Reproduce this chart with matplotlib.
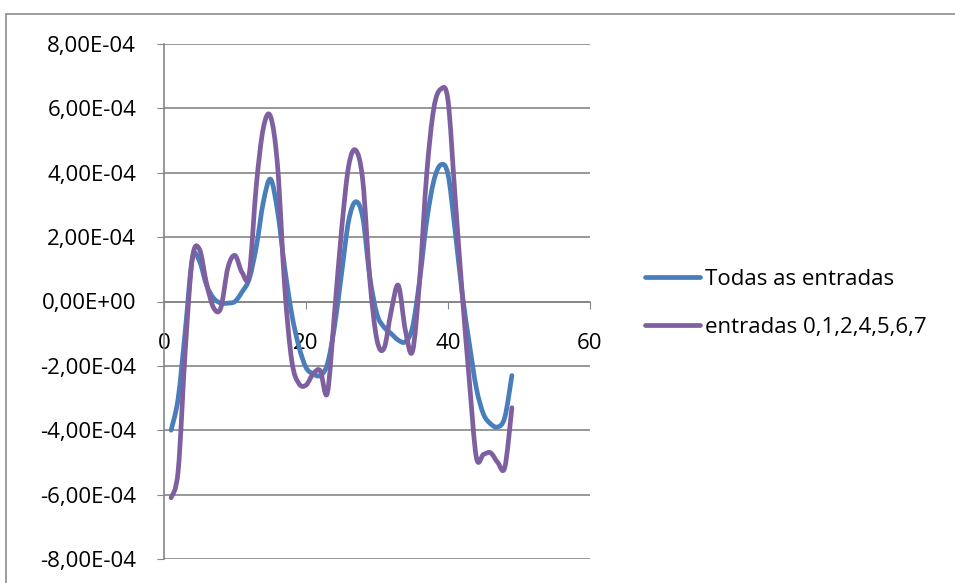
import numpy as np
import matplotlib.pyplot as plt
from matplotlib.path import Path
from matplotlib.patches import PathPatch, Rectangle
from matplotlib.lines import Line2D
from matplotlib.ticker import FuncFormatter, MultipleLocator

# Amostras (eixo x) e respostas, em unidades de 1E-04
amostras = list(range(1, 50))
todas_entradas = [
    -4.0, -3.0, -0.9, 1.35, 1.25, 0.5, 0.1, -0.05, -0.05, 0.0,
    0.3, 0.7, 1.7, 3.1, 3.8, 2.8, 1.05, -0.4, -1.4, -2.05,
    -2.25, -2.3, -1.95, -0.8, 0.85, 2.5, 3.1, 2.6, 0.75, -0.4,
    -0.8, -1.0, -1.2, -1.25, -0.8, 0.65, 2.5, 3.75, 4.25, 3.95,
    2.2, 0.25, -1.3, -2.7, -3.5, -3.8, -3.9, -3.6, -2.3,
]
entradas_sel = [
    -6.1, -5.25, -1.5, 1.35, 1.62, 0.55, -0.2, -0.2, 1.05, 1.43,
    0.9, 0.85, 3.6, 5.4, 5.75, 4.2, 0.45, -1.85, -2.55, -2.6,
    -2.25, -2.15, -2.85, -0.4, 2.2, 4.2, 4.7, 3.75, 0.65, -1.2,
    -1.45, -0.3, 0.5, -0.9, -1.55, 0.65, 3.95, 6.0, 6.6, 6.25,
    3.25, 0.25, -2.45, -4.85, -4.75, -4.7, -5.0, -5.15, -3.3,
]
escala = 1e-4

nomes = ['Todas as entradas', 'entradas 0,1,2,4,5,6,7']
cores = ['#4A7EBB', '#7E5FA0']

plt.rcParams['font.family'] = ['Open Sans', 'DejaVu Sans']


def curva_suave(x, y):
    # linha suavizada (Bezier cubica tipo Catmull-Rom) passando pelos pontos
    p = np.column_stack([x, y])
    ext = np.vstack([p[0], p, p[-1]])
    verts = [p[0]]
    codes = [Path.MOVETO]
    for i in range(1, len(ext) - 2):
        c1 = ext[i] + (ext[i + 1] - ext[i - 1]) / 6
        c2 = ext[i + 1] - (ext[i + 2] - ext[i]) / 6
        verts += [c1, c2, ext[i + 1]]
        codes += [Path.CURVE4] * 3
    return Path(verts, codes)


fig = plt.figure(figsize=(9.55, 5.83), dpi=100)
ax = fig.add_axes([164 / 955, 1 - 559 / 583, 426 / 955, 515 / 583])

# moldura externa do grafico
fig.patches.append(Rectangle((6 / 955, -0.01), 1.0, 1 - 13.5 / 583 + 0.01,
                             transform=fig.transFigure, fill=False,
                             edgecolor='#8c8c8c', linewidth=1.2))

for serie, cor in zip([todas_entradas, entradas_sel], cores):
    y = np.array(serie) * escala
    ax.add_patch(PathPatch(curva_suave(amostras, y), fill=False,
                           edgecolor=cor, linewidth=3.4, capstyle='round',
                           joinstyle='round', zorder=3))

ax.set_xlim(0, 60)
ax.set_ylim(-8e-4, 8e-4)
ax.xaxis.set_major_locator(MultipleLocator(20))
ax.yaxis.set_major_locator(MultipleLocator(2e-4))
ax.yaxis.set_major_formatter(FuncFormatter(lambda v, pos: f'{v:.2E}'.replace('.', ',')))

ax.grid(axis='y', color='#868686', linewidth=1.2)
ax.set_axisbelow(True)
for lado in ['top', 'right']:
    ax.spines[lado].set_visible(False)
ax.spines['bottom'].set_position(('data', 0))
ax.spines['bottom'].set_color('#868686')
ax.spines['left'].set_color('#868686')
ax.spines['bottom'].set_linewidth(1.2)
ax.spines['left'].set_linewidth(1.2)
ax.tick_params(axis='x', direction='out', length=5, color='#868686',
               labelsize=16, pad=18)
ax.tick_params(axis='y', direction='out', length=5, color='#868686',
               labelsize=16, pad=15)

handles = [Line2D([], [], color=c, linewidth=3.4, solid_capstyle='round') for c in cores]
fig.legend(handles, nomes, loc='upper left', bbox_to_anchor=(636 / 955, 1 - 260 / 583),
           frameon=False, fontsize=16, handlelength=2.5, handletextpad=0.2,
           labelspacing=1.2, borderaxespad=0)

fig.savefig('out.png', dpi=100)
